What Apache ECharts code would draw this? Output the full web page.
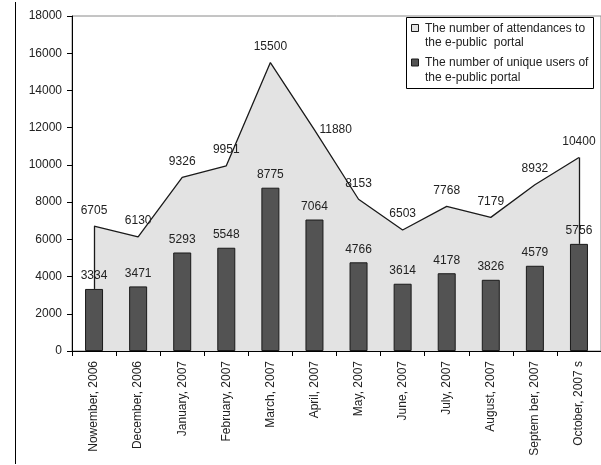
<!DOCTYPE html>
<html>
<head>
<meta charset="utf-8">
<script src="https://cdn.jsdelivr.net/npm/echarts@6/dist/echarts.min.js"></script>
<style>
  html, body { margin: 0; padding: 0; background: #fff; }
  #chart { width: 601px; height: 465px; }
</style>
</head>
<body>
<div id="chart"></div>
<script>
// Monthly traffic of the e-public portal
const months = [
  'Nowember, 2006', 'December, 2006', 'January, 2007', 'February, 2007',
  'March, 2007', 'April, 2007', 'May, 2007', 'June, 2007',
  'July, 2007', 'August, 2007', 'Septem ber, 2007', 'October, 2007 s'
];
const attendances = [6705, 6130, 9326, 9951, 15500, 11880, 8153, 6503, 7768, 7179, 8932, 10400];
const uniqueUsers = [3334, 3471, 5293, 5548, 8775, 7064, 4766, 3614, 4178, 3826, 4579, 5756];
const yTicks = { min: 0, max: 18000, step: 2000 };

const nameAttend = 'The number of attendances to\nthe e-public  portal';
const nameUsers = 'The number of unique users of\nthe e-public portal';

const FONT = '"Liberation Sans", Arial, sans-serif';
const TEXT = '#222';
const AREA = '#e3e3e3';
const BAR = '#535353';
const EDGE = '#1a1a1a';
const LINE_H = 14.5;

const first = 0, last = months.length - 1;

// On the steep fall after the peak the value sits beside the line, not above it
const sideLabelMonth = 'April, 2007';
const attendData = attendances.map((v, i) =>
  months[i] === sideLabelMonth ? { value: v, label: { position: 'right', distance: 5 } } : v
);

// Boxed legend: a small swatch beside the first line of each two-line caption
function legendEntry(y, color, text) {
  return [
    { type: 'rect', z: 11, shape: { x: 411.5, y: y + 3.5, width: 7, height: 7 },
      style: { fill: color, stroke: EDGE, lineWidth: 1 } },
    { type: 'text', z: 11, x: 425, y: y,
      style: { text: text, font: '12px ' + FONT, fill: TEXT, lineHeight: LINE_H, verticalAlign: 'top' } }
  ];
}

const chart = echarts.init(document.getElementById('chart'), null, { renderer: 'canvas' });

chart.setOption({
  animation: false,
  backgroundColor: '#fff',
  textStyle: { fontFamily: FONT },
  graphic: [
    { type: 'line', z: 10, shape: { x1: 15.5, y1: 2, x2: 15.5, y2: 464 }, style: { stroke: '#000', lineWidth: 1 } },
    { type: 'rect', z: 10, shape: { x: 406.5, y: 17.5, width: 187, height: 71 }, style: { fill: '#fff', stroke: '#000', lineWidth: 1 } }
  ].concat(legendEntry(21, AREA, nameAttend), legendEntry(55.5, BAR, nameUsers)),
  grid: {
    left: 72, top: 16, width: 534, height: 335,
    show: true, backgroundColor: '#fff', borderColor: '#8a8a8a', borderWidth: 1
  },
  xAxis: {
    type: 'category',
    data: months,
    boundaryGap: true,
    axisLine: { lineStyle: { color: '#000', width: 1 } },
    axisTick: { show: true, interval: 0, length: 5, lineStyle: { color: '#000' } },
    axisLabel: { interval: 0, rotate: 90, margin: 10, fontSize: 12, color: TEXT, fontFamily: FONT },
    splitLine: { show: false }
  },
  yAxis: {
    type: 'value',
    min: yTicks.min, max: yTicks.max, interval: yTicks.step,
    axisLine: { show: true, lineStyle: { color: '#000', width: 1 } },
    axisTick: { show: true, length: 5, lineStyle: { color: '#000' } },
    axisLabel: { margin: 10, fontSize: 12, color: TEXT, fontFamily: FONT, formatter: v => String(v) },
    splitLine: { show: false }
  },
  series: [
    {
      name: nameAttend,
      type: 'line',
      data: attendData,
      z: 1,
      showSymbol: true,
      symbol: 'circle',
      symbolSize: 0,
      itemStyle: { color: AREA },
      lineStyle: { color: EDGE, width: 1.3 },
      areaStyle: { color: AREA, opacity: 1 },
      label: {
        show: true, position: 'top', distance: 10,
        fontSize: 12, color: TEXT, fontFamily: FONT
      },
      labelLayout: { hideOverlap: false },
      markLine: {
        silent: true,
        symbol: 'none',
        label: { show: false },
        lineStyle: { color: EDGE, width: 1.3, type: 'solid' },
        data: [
          [{ coord: [months[first], uniqueUsers[first]] }, { coord: [months[first], attendances[first]] }],
          [{ coord: [months[last], uniqueUsers[last]] }, { coord: [months[last], attendances[last]] }]
        ]
      }
    },
    {
      name: nameUsers,
      type: 'bar',
      data: uniqueUsers,
      z: 3,
      barWidth: 18,
      itemStyle: { color: BAR, borderColor: EDGE, borderWidth: 1 },
      label: {
        show: true, position: 'top', distance: 7,
        fontSize: 12, color: TEXT, fontFamily: FONT
      }
    }
  ]
});
</script>
</body>
</html>
